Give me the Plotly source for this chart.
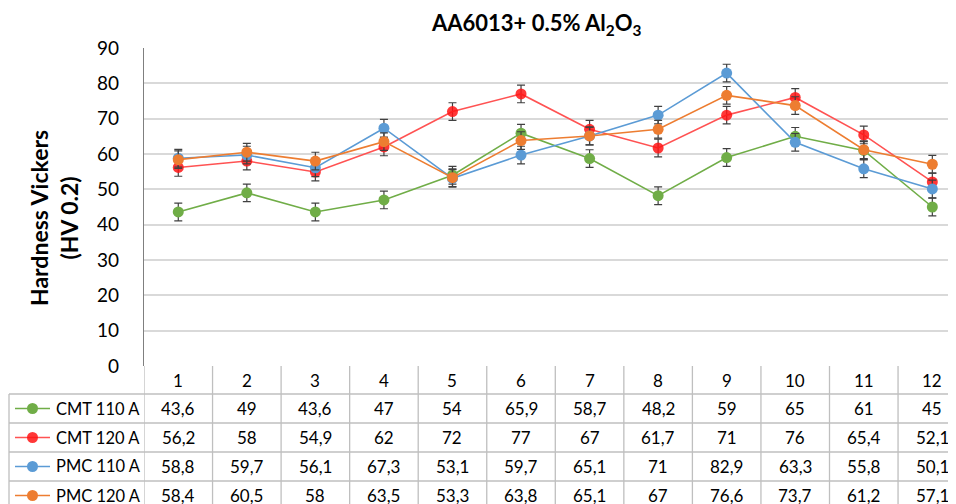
import plotly.graph_objects as go

categories = [1, 2, 3, 4, 5, 6, 7, 8, 9, 10, 11, 12]
series_names = ["CMT 110 A", "CMT 120 A", "PMC 110 A", "PMC 120 A"]
cmt110 = [43.6, 49, 43.6, 47, 54, 65.9, 58.7, 48.2, 59, 65, 61, 45]
cmt120 = [56.2, 58, 54.9, 62, 72, 77, 67, 61.7, 71, 76, 65.4, 52.1]
pmc110 = [58.8, 59.7, 56.1, 67.3, 53.1, 59.7, 65.1, 71, 82.9, 63.3, 55.8, 50.1]
pmc120 = [58.4, 60.5, 58, 63.5, 53.3, 63.8, 65.1, 67, 76.6, 73.7, 61.2, 57.1]
errors = [2.5] * 12
y_ticks = [0, 10, 20, 30, 40, 50, 60, 70, 80, 90]

all_series = [cmt110, cmt120, pmc110, pmc120]
line_colors = ["#70AD47", "#FF5252", "#5B9BD5", "#ED7D31"]
marker_colors = ["#70AD47", "rgba(255,20,20,0.85)", "#5B9BD5", "#ED7D31"]

OFF = 8  # page body margin
W, H = 956 - OFF, 504 - OFF
L, R, T = 144 - OFF, 0, 48 - OFF
B = H - (366 - OFF)
PW, PH = W - L - R, H - T - B
col_px = 68.55
xmax = 0.5 + PW / col_px

FONT = "Lato"

def py2paper(py):
    return (H - B - (py - OFF)) / PH

def px2paper(px):
    return ((px - OFF) - L) / PW

fig = go.Figure()
for name, vals, lc, mc in zip(series_names, all_series, line_colors, marker_colors):
    fig.add_trace(go.Scatter(
        x=categories, y=vals, name=name, mode="lines+markers",
        line=dict(color=lc, width=1.6),
        marker=dict(color=mc, size=11),
        error_y=dict(type="data", array=errors, visible=True,
                     color="#404040", thickness=1.2, width=4),
        showlegend=False, cliponaxis=False,
    ))

grid = "#D9D9D9"
tcol = "#BFBFBF"
shapes = []
annotations = []

row_edges = [366, 394, 423, 452, 481, 510]
for py in row_edges[1:]:
    shapes.append(dict(type="line", xref="paper", yref="paper",
                       x0=px2paper(9), x1=1.02, y0=py2paper(py), y1=py2paper(py),
                       line=dict(color=tcol, width=1.3), layer="above"))
shapes.append(dict(type="line", xref="paper", yref="paper",
                   x0=px2paper(9), x1=px2paper(9), y0=py2paper(394), y1=py2paper(510),
                   line=dict(color=tcol, width=1.3)))
for k in range(0, 13):
    shapes.append(dict(type="line", xref="x", yref="paper",
                       x0=k + 0.5, x1=k + 0.5, y0=0, y1=py2paper(510),
                       line=dict(color=tcol, width=1.3)))

for c in categories:
    annotations.append(dict(x=c, y=py2paper(380), xref="x", yref="paper",
                            xanchor="center", yanchor="middle",
                            text=str(c), showarrow=False,
                            font=dict(family=FONT, size=17, color="#000")))

def fmt(v):
    return ("%g" % v).replace(".", ",")

row_centers = [408.5, 437.5, 466.5, 495.5]
for i, (name, vals) in enumerate(zip(series_names, all_series)):
    yc = py2paper(row_centers[i])
    for c, v in zip(categories, vals):
        annotations.append(dict(x=c, y=yc, xref="x", yref="paper",
                                xanchor="center", yanchor="middle",
                                text=fmt(v), showarrow=False,
                                font=dict(family=FONT, size=17, color="#000")))
    shapes.append(dict(type="line", xref="paper", yref="paper",
                       x0=px2paper(15), x1=px2paper(50), y0=yc, y1=yc,
                       line=dict(color=line_colors[i], width=1.6)))
    shapes.append(dict(type="circle", xref="paper", yref="paper",
                       x0=px2paper(27), x1=px2paper(38),
                       y0=yc - 5.5 / PH, y1=yc + 5.5 / PH,
                       fillcolor=marker_colors[i], line=dict(width=0)))
    annotations.append(dict(x=px2paper(54), y=yc, xref="paper", yref="paper",
                            xanchor="left", yanchor="middle", text=name, showarrow=False,
                            font=dict(family=FONT, size=16.5, color="#000")))

annotations.append(dict(x=px2paper(536), y=py2paper(24), xref="paper", yref="paper",
                        xanchor="center", yanchor="middle",
                        text="<b>AA6013+ 0.5% Al<sub>2</sub>O<sub>3</sub></b>",
                        showarrow=False, font=dict(family=FONT, size=22, color="#000")))
annotations.append(dict(x=px2paper(54), y=py2paper(218), xref="paper", yref="paper",
                        xanchor="center", yanchor="middle",
                        text="<b>Hardness Vickers<br>(HV 0.2)</b>", textangle=-90,
                        showarrow=False, font=dict(family=FONT, size=23, color="#000")))

fig.update_layout(
    width=W, height=H,
    margin=dict(l=L, r=R, t=T, b=B, pad=0),
    paper_bgcolor="white", plot_bgcolor="white",
    shapes=shapes, annotations=annotations,
    xaxis=dict(range=[0.5, xmax], showticklabels=False, showgrid=False,
               zeroline=False, showline=False, ticks=""),
    yaxis=dict(range=[0, 90], tickvals=y_ticks, showgrid=True, gridcolor=grid,
               gridwidth=1.5, zeroline=False, showline=True, linecolor="#7F7F7F",
               linewidth=1.2, ticks="", ticklabelstandoff=20,
               tickfont=dict(family=FONT, size=19, color="#000")),
    font=dict(family=FONT),
)

fig.write_html("out.html")
